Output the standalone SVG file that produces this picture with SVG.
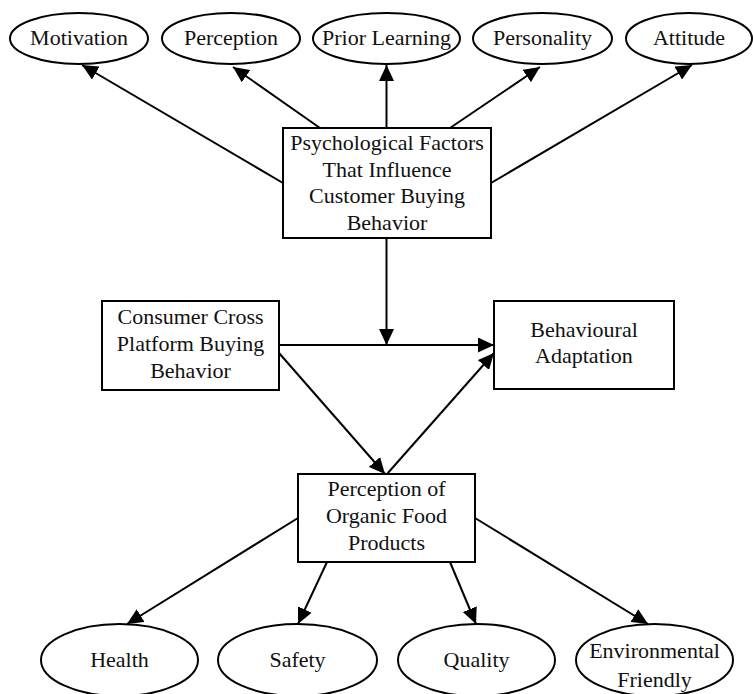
<svg xmlns="http://www.w3.org/2000/svg" width="753" height="694" viewBox="0 0 753 694">
<defs>
<marker id="arr" markerUnits="userSpaceOnUse" markerWidth="17" markerHeight="15" refX="16" refY="7.5" orient="auto">
<path d="M0,0 L16,7.5 L0,15 Z" fill="#000"/>
</marker>
<style>
.n{fill:#fff;stroke:#000;stroke-width:2}
.t{font-family:"Liberation Serif","Times New Roman",serif;font-size:22px;fill:#111;text-anchor:middle}
.c line{stroke:#000;stroke-width:2}
.a{marker-end:url(#arr)}
</style>
</defs>
<rect width="753" height="694" fill="#fff"/>
<g class="c">
<line class="a" x1="283" y1="183" x2="82" y2="65"/>
<line class="a" x1="320" y1="128" x2="233" y2="67"/>
<line class="a" x1="386.5" y1="128" x2="386.5" y2="65"/>
<line class="a" x1="450" y1="128" x2="540" y2="67"/>
<line class="a" x1="491" y1="183" x2="692" y2="65"/>
<line class="a" x1="386.5" y1="238" x2="386.5" y2="345"/>
<line class="a" x1="279" y1="345" x2="494" y2="345"/>
<line class="a" x1="279" y1="353" x2="385" y2="474"/>
<line class="a" x1="387" y1="474" x2="494" y2="353"/>
<line class="a" x1="298" y1="518" x2="127" y2="624"/>
<line class="a" x1="327" y1="562" x2="298" y2="624"/>
<line class="a" x1="450" y1="562" x2="476" y2="624"/>
<line class="a" x1="475" y1="518" x2="648" y2="624"/>
</g>
<g id="motivation"><ellipse class="n" cx="79" cy="38.5" rx="69" ry="25.5"/><text class="t" x="79" y="45">Motivation</text></g>
<g id="perception"><ellipse class="n" cx="231" cy="38.5" rx="69" ry="25.5"/><text class="t" x="231" y="45">Perception</text></g>
<g id="prior-learning"><ellipse class="n" cx="386.5" cy="38.5" rx="73.5" ry="25.5"/><text class="t" x="386.5" y="45">Prior Learning</text></g>
<g id="personality"><ellipse class="n" cx="542.5" cy="38.5" rx="69.5" ry="25.5"/><text class="t" x="542.5" y="45">Personality</text></g>
<g id="attitude"><ellipse class="n" cx="689" cy="38.5" rx="63" ry="25.5"/><text class="t" x="689" y="45">Attitude</text></g>
<g id="psych"><rect class="n" x="283" y="128" width="208" height="110"/>
<text class="t" x="387" y="150">Psychological Factors</text>
<text class="t" x="387" y="177">That Influence</text>
<text class="t" x="387" y="203">Customer Buying</text>
<text class="t" x="387" y="230">Behavior</text></g>
<g id="consumer"><rect class="n" x="102" y="301" width="177" height="89"/>
<text class="t" x="190.5" y="324">Consumer Cross</text>
<text class="t" x="190.5" y="351">Platform Buying</text>
<text class="t" x="190.5" y="378">Behavior</text></g>
<g id="behavioural"><rect class="n" x="494" y="301" width="180" height="88"/>
<text class="t" x="584" y="337">Behavioural</text>
<text class="t" x="584" y="363">Adaptation</text></g>
<g id="organic"><rect class="n" x="298" y="474" width="177" height="88"/>
<text class="t" x="386.5" y="496">Perception of</text>
<text class="t" x="386.5" y="523">Organic Food</text>
<text class="t" x="386.5" y="550">Products</text></g>
<g id="health"><ellipse class="n" cx="119.5" cy="660" rx="78.5" ry="36"/><text class="t" x="119.5" y="667">Health</text></g>
<g id="safety"><ellipse class="n" cx="297.5" cy="660" rx="79.5" ry="36"/><text class="t" x="297.5" y="667">Safety</text></g>
<g id="quality"><ellipse class="n" cx="476.5" cy="660" rx="78.5" ry="36"/><text class="t" x="476.5" y="667">Quality</text></g>
<g id="environmental"><ellipse class="n" cx="654.5" cy="660" rx="78.5" ry="36"/><text class="t" x="654.5" y="658">Environmental</text><text class="t" x="654.5" y="687">Friendly</text></g>
</svg>
